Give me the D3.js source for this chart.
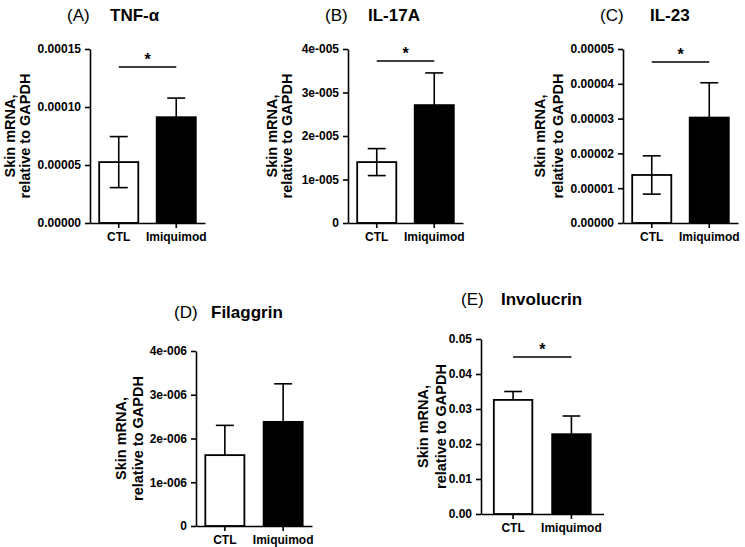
<!DOCTYPE html>
<html>
<head>
<meta charset="utf-8">
<script src="https://cdn.jsdelivr.net/npm/d3@7"></script>
<style>
  body { margin: 0; background: #fff; }
  svg { display: block; }
  text { font-family: "Liberation Sans", Arial, sans-serif; fill: #000; }
</style>
</head>
<body>
<div id="chart"></div>
<script>
// Data
var groups = ["CTL", "Imiquimod"];
var panelLetters = ["(A)", "(B)", "(C)", "(D)", "(E)"];
var panelNames = ["TNF-\u03b1", "IL-17A", "IL-23", "Filaggrin", "Involucrin"];
var means = [
  [0.0000525, 0.0000912],
  [0.0000140, 0.0000271],
  [0.0000138, 0.0000303],
  [0.00000162, 0.00000238],
  [0.0326, 0.0228]
];
var sems = [
  [0.0000220, 0.0000165],
  [0.0000031, 0.0000074],
  [0.0000055, 0.0000100],
  [0.00000068, 0.00000087],
  [0.0024, 0.0052]
];
var lowerWhisker = [true, true, true, false, false];
var significant = [true, true, true, false, true];
var yMax = [0.00015, 0.00004, 0.00005, 0.000004, 0.05];
var yTicks = [
  [0, 0.00005, 0.0001, 0.00015],
  [0, 0.00001, 0.00002, 0.00003, 0.00004],
  [0, 0.00001, 0.00002, 0.00003, 0.00004, 0.00005],
  [0, 0.000001, 0.000002, 0.000003, 0.000004],
  [0, 0.01, 0.02, 0.03, 0.04, 0.05]
];
var yTickLabels = [
  ["0.00000", "0.00005", "0.00010", "0.00015"],
  ["0", "1e-005", "2e-005", "3e-005", "4e-005"],
  ["0.00000", "0.00001", "0.00002", "0.00003", "0.00004", "0.00005"],
  ["0", "1e-006", "2e-006", "3e-006", "4e-006"],
  ["0.00", "0.01", "0.02", "0.03", "0.04", "0.05"]
];
var yLabelLines = ["Skin mRNA,", "relative to GAPDH"];

// Layout of each panel (pixels)
var layout = [
  {x: 90,  w: 115,   pi: 0.32, po: 0.16, top: 49,  bottom: 223, lab1: 80, lab2: 65, letterX: 67,  nameX: 110, titleY: 21,  sigDy: 18},
  {x: 348, w: 115,   pi: 0.32, po: 0.16, top: 49,  bottom: 223, lab1: 76, lab2: 61, letterX: 325, nameX: 368, titleY: 21,  sigDy: 12},
  {x: 623, w: 115,   pi: 0.32, po: 0.16, top: 49,  bottom: 223, lab1: 83, lab2: 65, letterX: 600, nameX: 650, titleY: 21,  sigDy: 13},
  {x: 196, w: 116,   pi: 0.33, po: 0.16, top: 351, bottom: 526, lab1: 75, lab2: 58, letterX: 174, nameX: 211, titleY: 318, sigDy: 0},
  {x: 481, w: 122.5, pi: 0.34, po: 0.22, top: 339, bottom: 514, lab1: 58, lab2: 40, letterX: 461, nameX: 501, titleY: 305, sigDy: 18}
];

var svg = d3.select("#chart")
  .append("svg")
  .attr("width", 745)
  .attr("height", 547);

panelNames.forEach(function (name, i) {
  var L = layout[i];
  var g = svg.append("g").attr("transform", "translate(" + L.x + ",0)");

  var x = d3.scaleBand()
    .domain(groups)
    .range([0, L.w])
    .paddingInner(L.pi)
    .paddingOuter(L.po);

  var y = d3.scaleLinear()
    .domain([0, yMax[i]])
    .range([L.bottom, L.top]);

  // Bars
  var bars = groups.map(function (k, j) {
    return {key: k, value: means[i][j], err: sems[i][j], idx: j};
  });

  g.selectAll("rect.bar")
    .data(bars)
    .enter()
    .append("rect")
    .attr("class", "bar")
    .attr("x", function (d) { return x(d.key); })
    .attr("width", x.bandwidth())
    .attr("y", function (d) { return y(d.value); })
    .attr("height", function (d) { return L.bottom - y(d.value); })
    .attr("fill", function (d) { return d.idx === 0 ? "#fff" : "#000"; })
    .attr("stroke", "#000")
    .attr("stroke-width", 1.8);

  // Error bars
  var cap = x.bandwidth() * 0.23;
  var eb = g.selectAll("g.err")
    .data(bars)
    .enter()
    .append("g")
    .attr("class", "err")
    .attr("stroke", "#000")
    .attr("stroke-width", 1.6);

  eb.append("line")
    .attr("x1", function (d) { return x(d.key) + x.bandwidth() / 2; })
    .attr("x2", function (d) { return x(d.key) + x.bandwidth() / 2; })
    .attr("y1", function (d) { return y(d.value + d.err); })
    .attr("y2", function (d) { return lowerWhisker[i] ? y(d.value - d.err) : y(d.value); });

  eb.append("line")
    .attr("x1", function (d) { return x(d.key) + x.bandwidth() / 2 - cap; })
    .attr("x2", function (d) { return x(d.key) + x.bandwidth() / 2 + cap; })
    .attr("y1", function (d) { return y(d.value + d.err); })
    .attr("y2", function (d) { return y(d.value + d.err); });

  eb.filter(function () { return lowerWhisker[i]; })
    .append("line")
    .attr("x1", function (d) { return x(d.key) + x.bandwidth() / 2 - cap; })
    .attr("x2", function (d) { return x(d.key) + x.bandwidth() / 2 + cap; })
    .attr("y1", function (d) { return y(d.value - d.err); })
    .attr("y2", function (d) { return y(d.value - d.err); });

  // Axes
  var yAxis = g.append("g")
    .call(d3.axisLeft(y)
      .tickValues(yTicks[i])
      .tickFormat(function (d, k) { return yTickLabels[i][k]; })
      .tickSize(5)
      .tickSizeOuter(0)
      .tickPadding(4));

  var xAxis = g.append("g")
    .attr("transform", "translate(0," + L.bottom + ")")
    .call(d3.axisBottom(x).tickSize(5).tickSizeOuter(0).tickPadding(4));

  [yAxis, xAxis].forEach(function (ax) {
    ax.selectAll("path, line").attr("stroke", "#000").attr("stroke-width", 1.6);
    ax.selectAll("text")
      .style("font-family", "'Liberation Sans', Arial, sans-serif")
      .style("font-size", "12px")
      .style("font-weight", "bold")
      .attr("fill", "#000");
  });

  // Y label
  var midY = (L.top + L.bottom) / 2;
  [L.lab1, L.lab2].forEach(function (off, k) {
    g.append("text")
      .attr("transform", "translate(" + (-off) + "," + midY + ") rotate(-90)")
      .attr("text-anchor", "middle")
      .attr("dy", "0.35em")
      .style("font-size", "14.5px")
      .style("font-weight", "bold")
      .text(yLabelLines[k]);
  });

  // Title
  svg.append("text")
    .attr("x", L.letterX)
    .attr("y", L.titleY)
    .style("font-size", "17px")
    .text(panelLetters[i]);
  svg.append("text")
    .attr("x", L.nameX)
    .attr("y", L.titleY)
    .style("font-size", "17px")
    .style("font-weight", "bold")
    .text(name);

  // Significance
  if (significant[i]) {
    var sy = L.top + L.sigDy;
    var x1 = x(groups[0]) + x.bandwidth() / 2;
    var x2 = x(groups[1]) + x.bandwidth() / 2;
    g.append("line")
      .attr("x1", x1).attr("x2", x2)
      .attr("y1", sy).attr("y2", sy)
      .attr("stroke", "#000")
      .attr("stroke-width", 1.6);
    g.append("text")
      .attr("x", (x1 + x2) / 2)
      .attr("y", sy - 2)
      .attr("text-anchor", "middle")
      .style("font-size", "16px")
      .style("font-weight", "bold")
      .text("*");
  }
});
</script>
</body>
</html>
